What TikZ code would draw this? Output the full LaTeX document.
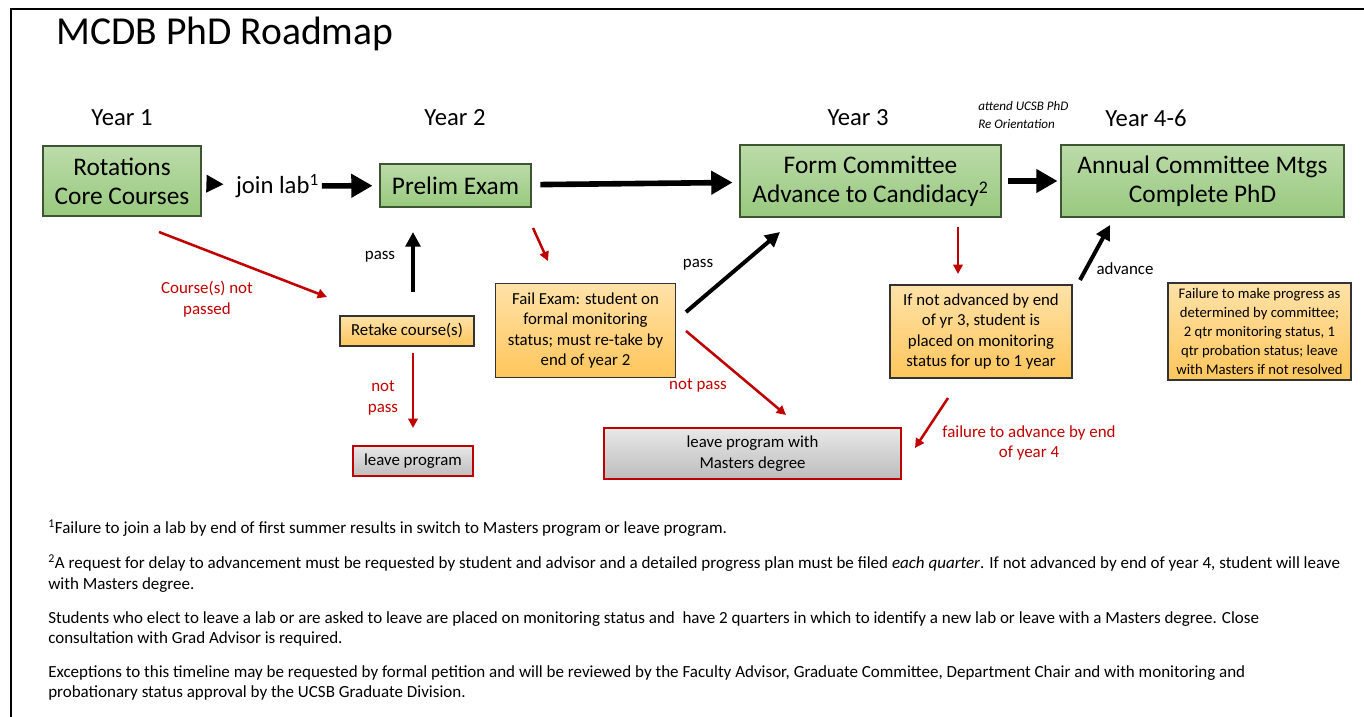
\documentclass[tikz,border=0pt]{standalone}
\usepackage{fontspec}
\setmainfont{Carlito}
\usetikzlibrary{arrows.meta}
\definecolor{myred}{HTML}{C00000}
\definecolor{gtop}{HTML}{BCDBA9}
\definecolor{gbot}{HTML}{98C97E}
\definecolor{gline}{HTML}{3D5533}
\definecolor{otop}{HTML}{FFE2A8}
\definecolor{obot}{HTML}{FFC65C}
\definecolor{oline}{HTML}{333333}
\definecolor{ytop}{HTML}{E8E8E8}
\definecolor{ybot}{HTML}{BDBDBD}
\tikzset{
  wh/.style n args={2}{minimum width=#1*0.75pt, minimum height=#2*0.75pt},
  greenbox/.style={draw=gline, line width=1.1pt, top color=gtop, bottom color=gbot, inner sep=0pt, align=center, font=\fontsize{19}{21.75}\selectfont},
  orangebox/.style={draw=oline, line width=1.1pt, top color=otop, bottom color=obot, inner sep=0pt, align=center, font=\fontsize{12.6}{15.3}\selectfont},
  graybox/.style={draw=myred, line width=1.1pt, top color=ytop, bottom color=ybot, inner sep=0pt, align=center, font=\fontsize{12.6}{15.8}\selectfont},
  yearlbl/.style={font=\fontsize{18.5}{21}\selectfont},
  blklbl/.style={font=\fontsize{12.7}{15.5}\selectfont, align=center},
  redlbl/.style={font=\fontsize{12.7}{15.5}\selectfont, align=center, text=myred},
  fn/.style={font=\fontsize{12.75}{15}\selectfont, anchor=base west, inner sep=0pt},
  bigarrow/.style={line width=4.2pt, -{Triangle[length=16pt,width=17pt]}},
  headarrow/.style={line width=4.2pt, -{Triangle[length=13pt,width=12.5pt]}},
  medarrow/.style={line width=3pt, -{Triangle[length=11pt,width=11pt]}},
  redarrow/.style={draw=myred, line width=1.9pt, -{Triangle[length=7pt,width=7pt]}},
}
\begin{document}
\begin{tikzpicture}[x=0.75pt,y=-0.75pt]
\useasboundingbox (0,0) rectangle (1364,717);
% frame
\draw[line width=1.6pt] (11,730) -- (11,9) -- (1380,9);
% title
\node[font=\fontsize{29.7}{32}\selectfont, anchor=west, inner sep=0pt] (title) at (56,34) {MCDB PhD Roadmap};
% years
\node[yearlbl] (y1) at (122,118) {Year 1};
\node[yearlbl] (y2) at (455,118) {Year 2};
\node[yearlbl] (y3) at (858,118) {Year 3};
\node[yearlbl] (y4) at (1146,118) {Year 4-6};
\node[font=\fontsize{9.8}{12.8}\selectfont\itshape, align=left, anchor=west, inner sep=0pt] (orient) at (978,115) {attend UCSB PhD\\Re Orientation};
% green boxes
\node[greenbox, wh={158}{70}] (rot) at (122,181) {Rotations\\Core Courses};
\node[greenbox, wh={151}{43}] (prelim) at (455.5,185.5) {Prelim Exam};
\node[greenbox, wh={261}{72}] (form) at (870.5,181) {Form Committee\\Advance to Candidacy\textsuperscript{2}};
\node[greenbox, wh={283}{72}] (annual) at (1202.5,181) {Annual Committee Mtgs\\Complete PhD};
\node[font=\fontsize{18.5}{21}\selectfont, inner sep=2pt] (join) at (277.5,186) {join lab\textsuperscript{1}};
% orange boxes
\node[orangebox, wh={134}{30}] (retake) at (407,331) {Retake course(s)};
\node[orangebox, wh={180}{94}] (fail) at (585.5,330.5) {Fail Exam: student on\\formal monitoring\\status; must re-take by\\end of year 2};
\node[orangebox, wh={182}{93}] (ifnot) at (981,331.5) {If not advanced by end\\of yr 3, student is\\placed on monitoring\\status for up to 1 year};
\node[orangebox, wh={183}{97}, font=\fontsize{11}{14.3}\selectfont] (progress) at (1259.5,331.5) {Failure to make progress as\\determined by committee;\\2 qtr monitoring status, 1\\qtr probation status; leave\\with Masters if not resolved};
% gray boxes
\node[graybox, wh={120}{30}] (leave) at (413,461) {leave program};
\node[graybox, wh={297}{51}] (leavem) at (752.5,453.5) {leave program with\\Masters degree};
% main arrows
\draw[headarrow, shorten <=4.5pt, shorten >=7pt] (rot) -- (join);
\draw[bigarrow, shorten >=5pt] (join) -- (prelim);
\draw[bigarrow, shorten <=6.5pt, shorten >=5pt] (prelim) -- (form);
\draw[bigarrow, shorten <=4.5pt, shorten >=2pt] (form) -- (annual);
% coordinates for free-standing connectors
\coordinate (a1s) at (159,232); \coordinate (a1e) at (327,297);
\coordinate (p1s) at (413,292); \coordinate (p1e) at (413,232);
\coordinate (n1s) at (413,353); \coordinate (n1e) at (413,428);
\coordinate (f1s) at (533,228); \coordinate (f1e) at (548,261);
\coordinate (p2s) at (686,312); \coordinate (p2e) at (780,232);
\coordinate (n2s) at (686,331); \coordinate (n2e) at (786,415);
\coordinate (c1s) at (958,227); \coordinate (c1e) at (958,274);
\coordinate (ads) at (1080,280); \coordinate (ade) at (1110,225);
\coordinate (f4s) at (948,398); \coordinate (f4e) at (915,448);
\draw[redarrow] (a1s) -- (a1e);
\draw[medarrow] (p1s) -- (p1e);
\draw[redarrow] (n1s) -- (n1e);
\draw[redarrow] (f1s) -- (f1e);
\draw[medarrow] (p2s) -- (p2e);
\draw[redarrow] (n2s) -- (n2e);
\draw[redarrow] (c1s) -- (c1e);
\draw[medarrow] (ads) -- (ade);
\draw[redarrow] (f4s) -- (f4e);
% labels
\node[redlbl] (l1) at (207,299) {Course(s) not\\passed};
\node[blklbl] (l2) at (380,257) {pass};
\node[redlbl] (l3) at (383,398) {not\\pass};
\node[blklbl] (l4) at (698,265) {pass};
\node[redlbl] (l5) at (698,386) {not pass};
\node[blklbl] (l6) at (1125,269) {advance};
\node[redlbl] (l7) at (1029,443) {failure to advance by end\\of year 4};
% footnotes
\node[fn] (fn1) at (48,533) {\textsuperscript{1}Failure to join a lab by end of first summer results in switch to Masters program or leave program.};
\node[fn] (fn2) at (48,568) {\textsuperscript{2}A request for delay to advancement must be requested by student and advisor and a detailed progress plan must be filed \textit{each quarter}. If not advanced by end of year 4, student will leave};
\node[fn] (fn3) at (48,589) {with Masters degree.};
\node[fn] (fn4) at (48,623) {Students who elect to leave a lab or are asked to leave are placed on monitoring status and\ \ have 2 quarters in which to identify a new lab or leave with a Masters degree. Close};
\node[fn] (fn5) at (48,643) {consultation with Grad Advisor is required.};
\node[fn] (fn6) at (48,677) {Exceptions to this timeline may be requested by formal petition and will be reviewed by the Faculty Advisor, Graduate Committee, Department Chair and with monitoring and};
\node[fn] (fn7) at (48,697) {probationary status approval by the UCSB Graduate Division.};
\end{tikzpicture}
\end{document}
